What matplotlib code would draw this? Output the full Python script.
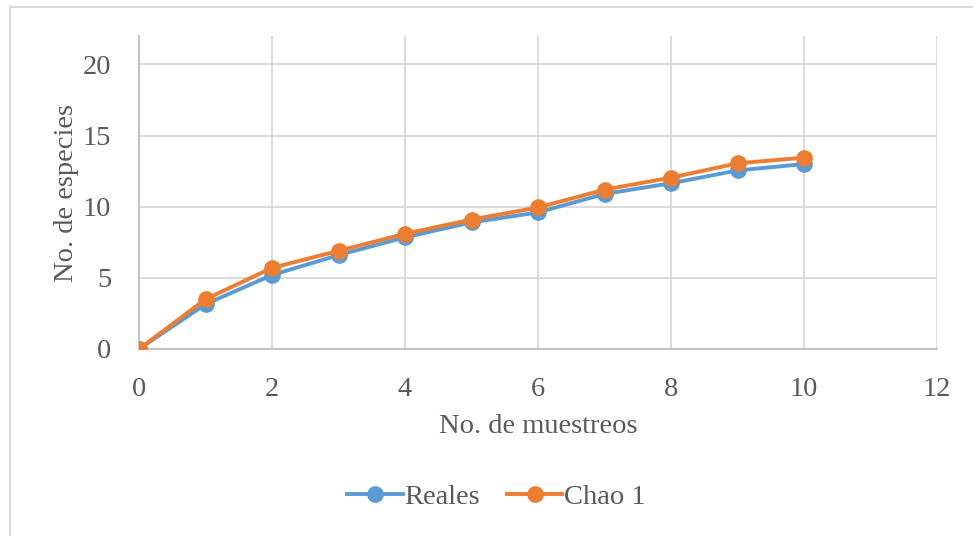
import matplotlib
matplotlib.use('Agg')
import matplotlib.pyplot as plt
from matplotlib.lines import Line2D

# datos
muestreos = [0, 1, 2, 3, 4, 5, 6, 7, 8, 9, 10]
reales = [0, 3.15, 5.2, 6.6, 7.85, 8.9, 9.6, 10.9, 11.65, 12.55, 13.0]
chao1 = [0, 3.5, 5.7, 6.9, 8.1, 9.1, 9.95, 11.2, 12.05, 13.05, 13.45]

azul = '#5B9BD5'
naranja = '#ED7D31'
gris = '#595959'

plt.rcParams['font.family'] = ['Liberation Serif', 'DejaVu Serif']

fig = plt.figure(figsize=(9.73, 5.36), dpi=100)
ax = fig.add_axes([0.1429, 0.3489, 0.963 - 0.1429, 0.9328 - 0.3489])

ax.plot(muestreos, reales, color=azul, lw=2.8, marker='o', ms=11, label='Reales', zorder=3)
ax.plot(muestreos, chao1, color=naranja, lw=2.8, marker='o', ms=11, label='Chao 1', zorder=4)

ax.set_xlim(0, 12)
ax.set_ylim(0, 22)
ax.set_xticks(range(0, 13, 2))
ax.set_yticks(range(0, 21, 5))
ax.grid(True, color='#D9D9D9', lw=1.3)
ax.set_axisbelow(True)
for s in ['top', 'right']:
    ax.spines[s].set_visible(False)
for s in ['left', 'bottom']:
    ax.spines[s].set_color('#BFBFBF')
    ax.spines[s].set_linewidth(1.3)
ax.tick_params(length=0, labelsize=20.5, colors=gris)
ax.tick_params(axis='x', pad=20)
ax.tick_params(axis='y', pad=20)
ax.set_xlabel('No. de muestreos', fontsize=20.5, color=gris, labelpad=9)
ax.set_ylabel('No. de especies', fontsize=20.5, color=gris, labelpad=3)

leg = fig.legend(handles=ax.get_lines(), loc='center', bbox_to_anchor=(0.51, 0.073), ncol=2,
                 frameon=False, fontsize=20.5, handlelength=1.95, handletextpad=0.05,
                 columnspacing=0.95, labelcolor=gris)

# marco del gráfico
fig.add_artist(Line2D([10 / 973, 10 / 973], [0, 1 - 7 / 536], color='#D9D9D9', lw=1.5))
fig.add_artist(Line2D([10 / 973, 1], [1 - 7 / 536, 1 - 7 / 536], color='#D9D9D9', lw=1.5))

fig.savefig('out.png', dpi=100)
